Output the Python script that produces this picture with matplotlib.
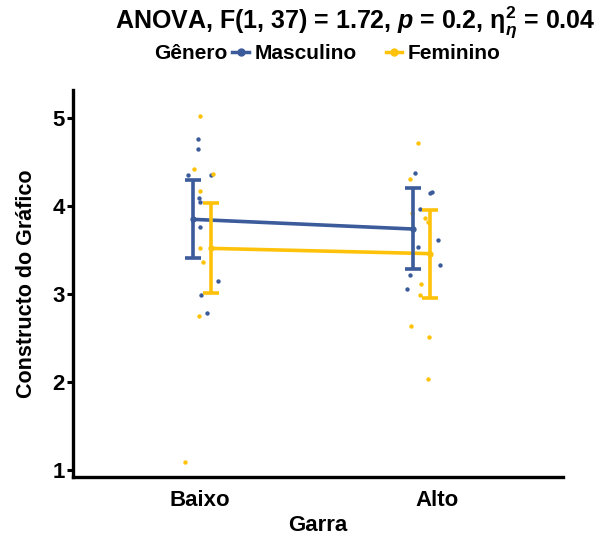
import matplotlib
matplotlib.use("Agg")
import matplotlib.pyplot as plt
from matplotlib.lines import Line2D

plt.rcParams["font.family"] = ["Liberation Sans", "DejaVu Sans"]
plt.rcParams["mathtext.fontset"] = "custom"
plt.rcParams["mathtext.rm"] = "Liberation Sans:bold"
plt.rcParams["mathtext.it"] = "Liberation Sans:italic:bold"
plt.rcParams["mathtext.bf"] = "Liberation Sans:bold"

BLUE = "#3B5B9B"
GOLD = "#FFC20A"

levels = ["Baixo", "Alto"]
groups = ["Masculino", "Feminino"]

# group means and 95% CI per level of Garra
mean_m = [3.85, 3.74]
lo_m = [3.41, 3.28]
hi_m = [4.30, 4.21]
mean_f = [3.52, 3.46]
lo_f = [3.01, 2.95]
hi_f = [4.04, 3.96]

# raw observations (x = jittered position on the category axis)
raw_m_x = [0.993, 0.993, 0.949, 1.046, 0.996, 1.000, 1.000, 1.075, 1.004, 1.028,
           1.907, 1.972, 1.978, 1.928, 2.006, 1.920, 2.011, 1.886, 1.873]
raw_m_y = [4.76, 4.65, 4.35, 4.35, 4.09, 4.05, 3.76, 3.15, 2.99, 2.79,
           4.38, 4.15, 4.16, 3.97, 3.62, 3.53, 3.33, 3.22, 3.06]
raw_f_x = [1.000, 0.975, 1.056, 1.000, 1.000, 1.011, 0.996, 0.938,
           1.918, 1.886, 1.895, 1.951, 1.963, 1.934, 1.929, 1.889, 1.968, 1.961]
raw_f_y = [5.02, 4.42, 4.36, 4.17, 3.52, 3.37, 2.75, 1.09,
           4.72, 4.31, 3.92, 3.87, 3.82, 3.12, 2.99, 2.64, 2.51, 2.04]

centers = [1.008, 1.935]
dodge = 0.037
tick_pos = [1.0, 2.0]

fig = plt.figure(figsize=(5.99, 5.36), dpi=100)
ax = fig.add_axes([0.122, 0.110, 0.818, 0.722])

ax.scatter(raw_m_x, raw_m_y, s=10, color=BLUE, linewidths=0, zorder=2)
ax.scatter(raw_f_x, raw_f_y, s=10, color=GOLD, linewidths=0, zorder=2)

for means, lo, hi, col, sgn in [(mean_m, lo_m, hi_m, BLUE, -1),
                                (mean_f, lo_f, hi_f, GOLD, 1)]:
    xs = [c + sgn * dodge for c in centers]
    ax.plot(xs, means, color=col, linewidth=2.6, zorder=3)
    ax.errorbar(xs, means,
                yerr=[[m - l for m, l in zip(means, lo)],
                      [h - m for m, h in zip(means, hi)]],
                fmt="o", color=col, markersize=3.5, elinewidth=2.6,
                capsize=5.5, capthick=2.6, zorder=4)

ax.set_xlim(0.464, 2.532)
ax.set_ylim(0.92, 5.32)
ax.set_yticks([1, 2, 3, 4, 5])
ax.set_xticks(tick_pos)
ax.set_xticklabels(levels)
for s in ("top", "right"):
    ax.spines[s].set_visible(False)
for s in ("left", "bottom"):
    ax.spines[s].set_linewidth(2.4)
ax.tick_params(axis="y", length=4, width=2.2, labelsize=16, pad=2)
ax.tick_params(axis="x", length=0, labelsize=16, pad=9)
for lab in ax.get_yticklabels() + ax.get_xticklabels():
    lab.set_fontweight("bold")
ax.set_ylabel("Constructo do Gráfico", fontsize=15.5, fontweight="bold", labelpad=11)
ax.set_xlabel("Garra", fontsize=16, fontweight="bold", labelpad=3)

fig.text(0.593, 0.958,
         r"ANOVA, F(1, 37) = 1.72, $p$ = 0.2, η$^{2}_{\eta}$ = 0.04",
         ha="center", va="center", fontsize=18, fontweight="bold")

# legend row: title inline to the left of the keys
fig.text(0.258, 0.900, "Gênero", ha="left", va="center",
         fontsize=15, fontweight="bold")
handles = [Line2D([], [], color=BLUE, marker="o", markersize=5, linewidth=2.5),
           Line2D([], [], color=GOLD, marker="o", markersize=5, linewidth=2.5)]
fig.legend(handles, groups, loc="center left", bbox_to_anchor=(0.388, 0.900),
           ncol=2, frameon=False, handlelength=0.8, handletextpad=0.25,
           columnspacing=1.4, borderpad=0, borderaxespad=0,
           prop={"size": 15, "weight": "bold"})

fig.savefig("out.png", dpi=100, facecolor="white")
